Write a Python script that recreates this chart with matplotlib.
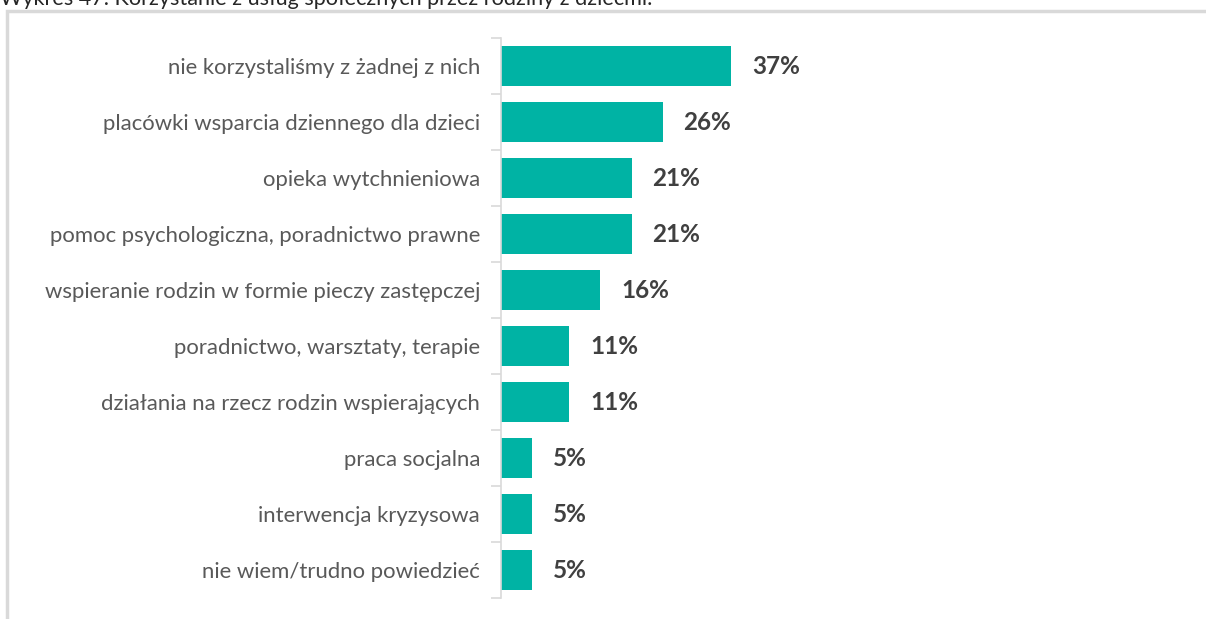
import matplotlib
matplotlib.use("Agg")
import matplotlib.pyplot as plt
from matplotlib.patches import Rectangle

categories = [
    "nie korzystaliśmy z żadnej z nich",
    "placówki wsparcia dziennego dla dzieci",
    "opieka wytchnieniowa",
    "pomoc psychologiczna, poradnictwo prawne",
    "wspieranie rodzin w formie pieczy zastępczej",
    "poradnictwo, warsztaty, terapie",
    "działania na rzecz rodzin wspierających",
    "praca socjalna",
    "interwencja kryzysowa",
    "nie wiem/trudno powiedzieć",
]
values = [37, 26, 21, 21, 16, 11, 11, 5, 5, 5]
title = "Wykres 47. Korzystanie z usług społecznych przez rodziny z dziećmi."

W, H = 1206, 619
fig = plt.figure(figsize=(W / 100, H / 100), dpi=100)
plt.rcParams['font.family'] = ['Lato', 'DejaVu Sans']

# outer frame
fig.patches.append(Rectangle((6.5 / W, -0.1), 1.2, (H - 11) / H + 0.1, transform=fig.transFigure,
                             fill=False, edgecolor="#d9d9d9", linewidth=2.5, zorder=0))
fig.text(0, 1 - 5 / H, title, ha="left", va="baseline", fontsize=15.6, color="#262626")

# axes: x=0 at px 501, 1% = 6.216 px ; rows from y=38 to 598
left = 501 / W
x_per = 6.216
right_px = W - 80
ax = fig.add_axes([left, 1 - 598 / H, (right_px - 501) / W, (598 - 38) / H])
ax.set_xlim(0, (right_px - 501) / x_per)
n = len(categories)
ax.set_ylim(n - 0.5, -0.5)
ys = list(range(n))
ax.barh(ys, values, height=0.71, color="#00b3a4", zorder=2)
for y, v in zip(ys, values):
    ax.text(v + 21 / x_per, y, f"{v}%", va="center", ha="left", fontsize=17.5,
            fontweight="bold", color="#404040")

ax.set_yticks(ys)
ax.set_yticklabels(categories, fontsize=15.9, color="#595959")
ax.tick_params(axis="y", length=0, pad=15)
ax.set_yticks([i - 0.5 for i in range(n + 1)], minor=True)
ax.tick_params(axis="y", which="minor", length=7, color="#d9d9d9", width=1.2)
ax.set_xticks([])
for s in ["top", "right", "bottom"]:
    ax.spines[s].set_visible(False)
ax.spines["left"].set_color("#d9d9d9")
ax.spines["left"].set_linewidth(1.2)
ax.patch.set_alpha(0)

fig.savefig("out.png", dpi=100)
